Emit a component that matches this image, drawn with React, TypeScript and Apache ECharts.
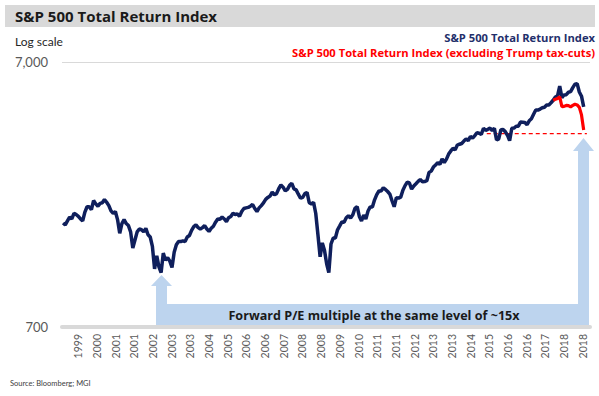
import React, { useEffect, useRef } from "react";
import * as echarts from "echarts";

// Monthly S&P 500 Total Return Index, Jan 1999 .. Dec 2018
const START_YEAR = 1999;
const TOTAL_RETURN = [
  1728, 1700, 1760, 1820, 1790, 1880, 1860, 1830, 1790, 1760, 1900, 1990, // 1999
  1990, 1940, 2100, 2040, 2000, 2050, 2060, 2120, 2070, 2010, 1920, 1880, // 2000
  1910, 1780, 1580, 1720, 1780, 1720, 1690, 1600, 1390, 1490, 1600, 1640, // 2001
  1630, 1600, 1650, 1560, 1530, 1410, 1160, 1300, 1180, 1124, 1330, 1250, // 2002
  1280, 1240, 1175, 1340, 1430, 1470, 1470, 1480, 1470, 1530, 1550, 1620, // 2003
  1674, 1700, 1660, 1640, 1660, 1690, 1640, 1606, 1650, 1680, 1740, 1790, // 2004
  1783, 1820, 1790, 1750, 1810, 1830, 1880, 1860, 1870, 1830, 1910, 1960, // 2005
  1971, 1980, 2000, 2030, 1960, 1910, 1970, 2010, 2057, 2122, 2158, 2184, // 2006
  2258, 2209, 2231, 2327, 2404, 2360, 2284, 2314, 2397, 2440, 2325, 2305, // 2007
  2220, 2143, 2160, 2231, 2254, 2061, 2040, 2066, 1877, 1560, 1288, 1454, // 2008
  1363, 1213, 1122, 1440, 1516, 1516, 1629, 1685, 1744, 1740, 1808, 1840, // 2009
  1804, 1855, 1964, 1994, 1830, 1760, 1851, 1790, 1917, 1987, 1984, 2113, // 2010
  2212, 2282, 2281, 2346, 2313, 2272, 2222, 2097, 1990, 2155, 2145, 2164, // 2011
  2296, 2391, 2464, 2447, 2320, 2384, 2430, 2480, 2522, 2471, 2478, 2496, // 2012
  2681, 2712, 2809, 2860, 2919, 2875, 3018, 2923, 3011, 3145, 3233, 3308, // 2013
  3263, 3402, 3426, 3448, 3521, 3587, 3534, 3665, 3609, 3693, 3784, 3768, // 2014
  3731, 3936, 3867, 3901, 3940, 3858, 3934, 3553, 3590, 3888, 3890, 3822, // 2015
  3705, 3534, 3935, 3944, 4005, 4009, 4152, 4147, 4141, 4061, 4200, 4276, // 2016
  4444, 4610, 4608, 4649, 4703, 4725, 4817, 4820, 4912, 5021, 5164, 5214, // 2017
  5680, 5136, 5256, 5270, 5383, 5409, 5604, 5775, 5799, 5397, 5200, 4740, // 2018
];

// Index excluding Trump tax-cuts, monthly from Oct 2017 (month index 225) to Dec 2018
const RED_START_INDEX = 225;
const EX_TAX_CUT = [5021, 5060, 5100, 5170, 4750, 4760, 4800, 4790, 4740, 4800, 4850, 4820, 4720, 4420, 3880];

// "Same level" reference line
const SAME_LEVEL = 3760;
const SAME_LEVEL_FROM = 2015.25;
const SAME_LEVEL_TO = 2019.08;

// X tick labels (positions in decimal years) and their texts
const TICK_POSITIONS = [
  1999.62, 2000.335, 2001.05, 2001.765, 2002.48, 2003.195, 2003.91, 2004.625, 2005.34, 2006.055,
  2006.77, 2007.485, 2008.2, 2008.915, 2009.63, 2010.345, 2011.06, 2011.775, 2012.49, 2013.205,
  2013.92, 2014.635, 2015.35, 2016.065, 2016.78, 2017.495, 2018.21, 2018.925,
];
const TICK_LABELS = [
  "1999", "2000", "2001", "2001", "2002", "2003", "2003", "2004", "2005", "2006",
  "2006", "2007", "2008", "2008", "2009", "2010", "2011", "2011", "2012", "2013",
  "2013", "2014", "2015", "2016", "2016", "2017", "2018", "2018",
];
const Y_TICKS = [700, 7000];

const TITLE = "S&P 500 Total Return Index";
const SERIES_BLUE = "S&P 500 Total Return Index";
const SERIES_RED = "S&P 500 Total Return Index (excluding Trump tax-cuts)";
const NOTE = "Forward P/E multiple at the same level of ~15x";
const SOURCE = "Source: Bloomberg; MGI";

const FONT = "Lato, 'Open Sans', sans-serif";
const BOLD_FONT = "'Open Sans', Lato, sans-serif";
const NAVY = "#0F1F5C";
const RED = "#FF0000";
const ARROW = "#BDD4EE";

export default function App() {
  const ref = useRef<HTMLDivElement>(null);
  useEffect(() => {
    const chart = echarts.init(ref.current!, null, { renderer: "svg" });
    const blueData = TOTAL_RETURN.map((v, i) => [START_YEAR + (i + 0.5) / 12, v]);
    const redData = EX_TAX_CUT.map((v, i) => [START_YEAR + (RED_START_INDEX + i + 0.5) / 12, v]);
    const labelFor = (v: number) => {
      let best = 0;
      for (let i = 1; i < TICK_POSITIONS.length; i++) {
        if (Math.abs(TICK_POSITIONS[i] - v) < Math.abs(TICK_POSITIONS[best] - v)) best = i;
      }
      return TICK_LABELS[best];
    };
    chart.setOption({
      animation: false,
      grid: { left: 62, right: 9, top: 62, bottom: 69, outerBoundsMode: "none" },
      xAxis: {
        type: "value",
        min: 1999,
        max: 2019.2,
        axisLine: { show: true, lineStyle: { color: "#D9D9D9", width: 4 } },
        axisTick: { show: false },
        splitLine: { show: false },
        axisLabel: {
          customValues: TICK_POSITIONS,
          formatter: (v: number) => labelFor(v),
          rotate: 90,
          margin: 7,
          fontSize: 10.5,
          fontFamily: FONT,
          color: "#595959",
        },
      },
      yAxis: {
        type: "log",
        logBase: 10,
        min: 700,
        max: 7000,
        axisLine: { show: false },
        axisTick: { show: false },
        splitLine: { show: false },
        axisLabel: {
          customValues: Y_TICKS,
          formatter: (v: number) => Math.round(v).toLocaleString("en-US"),
          margin: 14,
          fontSize: 13,
          fontFamily: FONT,
          color: "#595959",
        },
      },
      series: [
        {
          name: SERIES_BLUE,
          type: "line",
          data: blueData,
          showSymbol: false,
          lineStyle: { color: NAVY, width: 3.5 },
          z: 3,
          markLine: {
            silent: true,
            symbol: ["none", "none"],
            label: { show: false },
            lineStyle: { color: "#D9D9D9", width: 1, type: "solid" },
            data: [{ yAxis: 7000 }],
          },
        },
        {
          name: SERIES_RED,
          type: "line",
          data: redData,
          showSymbol: false,
          lineStyle: { color: RED, width: 3.2 },
          z: 4,
        },
        {
          name: "same level",
          type: "line",
          data: [
            [SAME_LEVEL_FROM, SAME_LEVEL],
            [SAME_LEVEL_TO, SAME_LEVEL],
          ],
          showSymbol: false,
          silent: true,
          lineStyle: { color: RED, width: 1.2, type: [4, 3] },
          z: 2,
        },
      ],
      graphic: [
        { type: "rect", shape: { x: 5, y: 5, width: 590, height: 22 }, style: { fill: "#D9D9D9" }, z: 0 },
        {
          type: "text",
          x: 15,
          y: 16,
          style: { text: TITLE, font: `bold 15px ${BOLD_FONT}`, fill: "#1A1A1A", textVerticalAlign: "middle" },
          z: 10,
        },
        {
          type: "text",
          x: 15,
          y: 41,
          style: { text: "Log scale", font: `12px ${FONT}`, fill: "#262626", textVerticalAlign: "middle" },
          z: 10,
        },
        {
          type: "text",
          x: 595,
          y: 37,
          style: {
            text: SERIES_BLUE,
            font: `bold 11.2px ${BOLD_FONT}`,
            fill: "#1F2F6B",
            textAlign: "right",
            textVerticalAlign: "middle",
          },
          z: 10,
        },
        {
          type: "text",
          x: 595,
          y: 52,
          style: {
            text: SERIES_RED,
            font: `bold 11.2px ${BOLD_FONT}`,
            fill: RED,
            textAlign: "right",
            textVerticalAlign: "middle",
          },
          z: 10,
        },
        {
          type: "polygon",
          shape: {
            points: [
              [161.5, 275], [172, 286], [167, 286], [167, 304], [578, 304], [578, 151], [573, 151],
              [583.5, 138], [594, 151], [589, 151], [589, 325], [156, 325], [156, 286], [151, 286],
            ],
          },
          style: { fill: ARROW },
          z: 1,
        },
        {
          type: "text",
          x: 374,
          y: 315,
          style: {
            text: NOTE,
            font: `bold 12.6px ${BOLD_FONT}`,
            fill: "#1A1A1A",
            textAlign: "center",
            textVerticalAlign: "middle",
          },
          z: 10,
        },
        {
          type: "text",
          x: 10,
          y: 383,
          style: { text: SOURCE, font: `7.5px ${FONT}`, fill: "#404040", textVerticalAlign: "middle" },
          z: 10,
        },
      ],
    });
    return () => chart.dispose();
  }, []);
  return <div ref={ref} style={{ position: "absolute", left: 0, top: 0, width: 599, height: 396 }} />;
}
